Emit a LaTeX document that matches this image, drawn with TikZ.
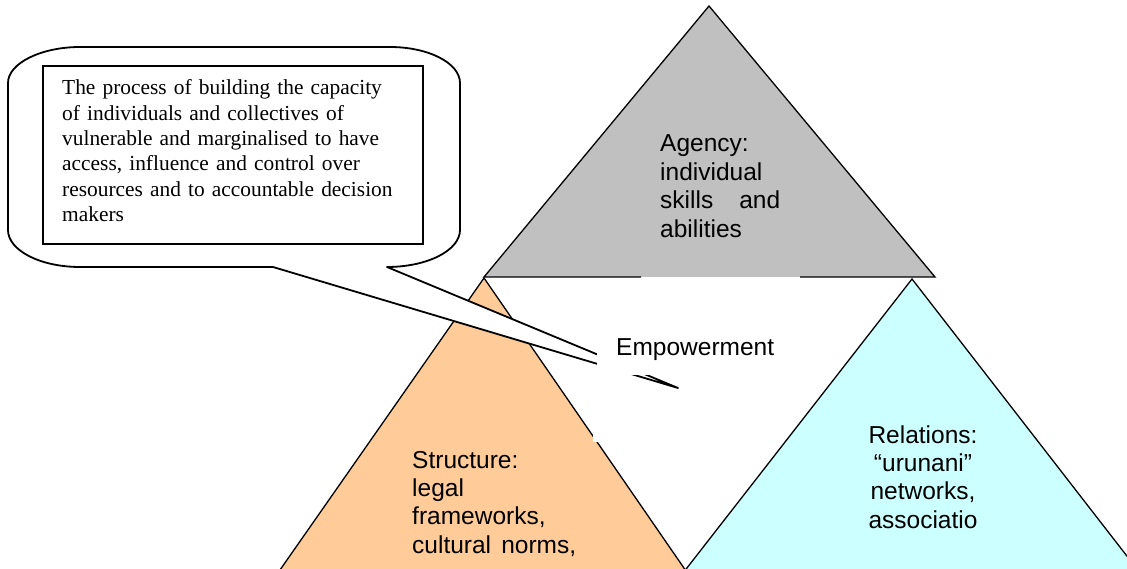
\documentclass[tikz,border=0pt]{standalone}
\usepackage{fontspec}
\setmainfont{Liberation Serif}
\newfontfamily\arialfont{Liberation Sans}
\definecolor{agencygray}{HTML}{C0C0C0}
\definecolor{structorange}{HTML}{FFCC99}
\definecolor{relcyan}{HTML}{CCFFFF}
\tikzset{
  edge/.style={line width=1.3pt, line join=miter},
  label/.style={inner sep=0pt, font=\arialfont\fontsize{24.5}{28.4}\selectfont},
}
\begin{document}
\begin{tikzpicture}[x=1pt,y=-1pt]
\useasboundingbox (0,0) rectangle (1127,569);
\clip (0,0) rectangle (1127,569);
\fill[white] (0,0) rectangle (1127,569);

% Structure triangle
\filldraw[fill=structorange, edge] (484,278) -- (259,600) -- (706,600) -- cycle;
% Relations triangle
\filldraw[fill=relcyan, edge] (912,279) -- (662,600) -- (1161,600) -- cycle;
% Agency triangle (base stroke interrupted by its text box)
\fill[agencygray] (709,6) -- (484,277) -- (935,277) -- cycle;
\draw[edge] (641,277) -- (484,277) -- (709,6) -- (935,277) -- (800,277);

% small white patch on the Structure edge
\fill[white] (593,426) rectangle (598,442);

% speech bubble with its wedge
\filldraw[fill=white, line width=1.8pt, line join=round]
  (80,47) -- (390,47)
  .. controls (428.6,47) and (460,63.1) .. (460,83)
  -- (460,230)
  .. controls (460,250.4) and (427.3,267) .. (387,267)
  -- (678,388) -- (273,267) -- (80,267)
  .. controls (40.3,267) and (8,250.4) .. (8,230)
  -- (8,83)
  .. controls (8,63.1) and (41.4,47) .. (80,47) -- cycle;

% inner definition box
\draw[line width=1.3pt] (43,66) rectangle (423,244);
\node[anchor=base west, inner sep=0pt, text width=360pt, align=left,
      font=\fontsize{21.4}{25.3}\selectfont] (def) at (62,95)
  {The process of building the capacity\\
   of individuals and collectives of\\
   vulnerable and marginalised to have\\
   access, influence and control over\\
   resources and to accountable decision\\
   makers};

% Empowerment label on its white box
\fill[white] (597,318) rectangle (790,375);
\node[label, anchor=base west] (emp) at (616,355) {Empowerment};

% triangle labels
\node[label, anchor=base west, text width=120pt, align=left] (agency) at (660,152)
  {Agency:\\ individual\\ \makebox[120pt][l]{skills\hfill and}\\ abilities};
\node[label, anchor=base west, text width=164pt, align=left] (structure) at (412,468)
  {Structure:\\ legal\\ frameworks,\\ \makebox[164pt][l]{cultural\hfill norms,}};
\node[label, anchor=base, text width=160pt, align=center] (relations) at (923,443)
  {Relations:\\ “urunani”\\ networks,\\ associatio};
\end{tikzpicture}
\end{document}
